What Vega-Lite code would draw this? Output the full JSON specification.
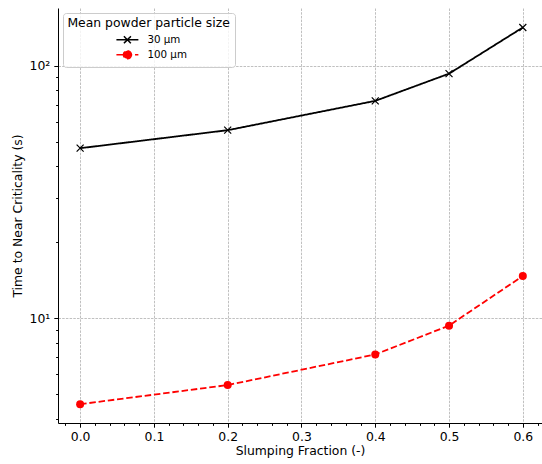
{
  "$schema": "https://vega.github.io/schema/vega-lite/v6.json",
  "autosize": {"type": "none"},
  "width": 484,
  "height": 415,
  "padding": {"left": 58, "top": 8, "right": 0, "bottom": 41},
  "background": "white",
  "config": {
    "font": "DejaVu Sans",
    "view": {"stroke": null},
    "axis": {
      "labelFont": "DejaVu Sans",
      "labelFontSize": 12.4,
      "labelColor": "black",
      "titleFont": "DejaVu Sans",
      "titleFontSize": 12.4,
      "titleFontWeight": "normal",
      "titleColor": "black",
      "domainColor": "black",
      "domainWidth": 1,
      "tickColor": "black",
      "tickWidth": 1,
      "gridColor": "#b0b0b0",
      "gridDash": [2.5, 1.2],
      "gridWidth": 0.8,
      "gridOpacity": 1
    }
  },
  "data": {
    "values": [
      {"f": 0.0, "t": 47.1, "size": "30 μm"},
      {"f": 0.2, "t": 55.5, "size": "30 μm"},
      {"f": 0.4, "t": 72.5, "size": "30 μm"},
      {"f": 0.5, "t": 92.9, "size": "30 μm"},
      {"f": 0.6, "t": 141.5, "size": "30 μm"},
      {"f": 0.0, "t": 4.57, "size": "100 μm"},
      {"f": 0.2, "t": 5.44, "size": "100 μm"},
      {"f": 0.4, "t": 7.19, "size": "100 μm"},
      {"f": 0.5, "t": 9.35, "size": "100 μm"},
      {"f": 0.6, "t": 14.7, "size": "100 μm"}
    ]
  },
  "resolve": {"axis": {"x": "independent", "y": "independent"}},
  "layer": [
    {
      "mark": {"type": "line", "strokeWidth": 1.8},
      "encoding": {
        "x": {
          "field": "f", "type": "quantitative",
          "scale": {"domain": [-0.03, 0.626], "nice": false, "zero": false},
          "axis": {
            "title": "Slumping Fraction (-)",
            "orient": "bottom",
            "values": [0, 0.1, 0.2, 0.3, 0.4, 0.5, 0.6],
            "format": ".1f",
            "tickSize": 4.2,
            "labelPadding": 3,
            "titlePadding": 2,
            "grid": true
          }
        },
        "y": {
          "field": "t", "type": "quantitative",
          "scale": {"type": "log", "domain": [3.85, 169], "nice": false, "zero": false},
          "axis": {
            "title": "Time to Near Criticality (s)",
            "orient": "left",
            "values": [10, 100],
            "labelExpr": "datum.value == 10 ? '10¹' : '10²'",
            "tickSize": 4.2,
            "labelPadding": 4,
            "titlePadding": 5,
            "grid": true
          }
        },
        "color": {
          "field": "size", "type": "nominal",
          "scale": {"domain": ["30 μm", "100 μm"], "range": ["black", "red"]},
          "legend": {
            "title": "Mean powder particle size",
            "orient": "none",
            "legendX": 5,
            "legendY": 5,
            "padding": 4.4,
            "strokeColor": "#cccccc",
            "fillColor": "rgba(255,255,255,0.8)",
            "cornerRadius": 3,
            "titleFont": "DejaVu Sans",
            "titleFontSize": 12.4,
            "titleFontWeight": "normal",
            "titleColor": "black",
            "titlePadding": 3,
            "labelFont": "DejaVu Sans",
            "labelFontSize": 10.3,
            "labelColor": "black",
            "symbolSize": 144,
            "symbolStrokeWidth": 1.5,
            "symbolOffset": 53,
            "labelOffset": 13,
            "rowPadding": 0,
            "encode": {
              "symbols": {
                "update": {
                  "shape": {"signal": "datum.value == '30 μm' ? 'M-1.83,0L1.83,0M-0.58,-0.58L0.58,0.58M-0.58,0.58L0.58,-0.58' : 'M-1.83,0L1.83,0M0.67,0A0.67,0.67,0,1,1,-0.67,0A0.67,0.67,0,1,1,0.67,0'"},
                  "fill": {"signal": "datum.value == '30 μm' ? 'transparent' : 'red'"},
                  "stroke": {"signal": "datum.value == '30 μm' ? 'black' : 'red'"},
                  "strokeWidth": {"value": 1.5},
                  "strokeDash": {"value": []},
                  "opacity": {"value": 1}
                }
              }
            }
          }
        },
        "strokeDash": {
          "field": "size", "type": "nominal",
          "scale": {"domain": ["30 μm", "100 μm"], "range": [[1, 0], [6.5, 2.8]]},
          "legend": null
        }
      }
    },
    {
      "transform": [{"filter": "datum.size == '30 μm'"}],
      "mark": {"type": "point", "shape": "M-1,-1L1,1M-1,1L1,-1", "filled": false, "stroke": "black", "strokeWidth": 1.2, "size": 49, "opacity": 1},
      "encoding": {
        "x": {"field": "f", "type": "quantitative", "axis": null},
        "y": {"field": "t", "type": "quantitative", "axis": null}
      }
    },
    {
      "transform": [{"filter": "datum.size == '100 μm'"}],
      "mark": {"type": "point", "shape": "circle", "filled": true, "color": "red", "size": 64, "opacity": 1},
      "encoding": {
        "x": {
          "field": "f", "type": "quantitative",
          "axis": {
            "orient": "bottom", "title": null, "labels": false, "domain": false, "grid": false,
            "tickSize": 2.4,
            "values": [-0.02, 0.02, 0.04, 0.06, 0.08, 0.12, 0.14, 0.16, 0.18, 0.22, 0.24, 0.26, 0.28, 0.32, 0.34, 0.36, 0.38, 0.42, 0.44, 0.46, 0.48, 0.52, 0.54, 0.56, 0.58, 0.62]
          }
        },
        "y": {
          "field": "t", "type": "quantitative",
          "axis": {
            "orient": "left", "title": null, "labels": false, "domain": false, "grid": false,
            "tickSize": 2.4,
            "values": [4, 5, 6, 7, 8, 9, 20, 30, 40, 50, 60, 70, 80, 90]
          }
        }
      }
    }
  ]
}
